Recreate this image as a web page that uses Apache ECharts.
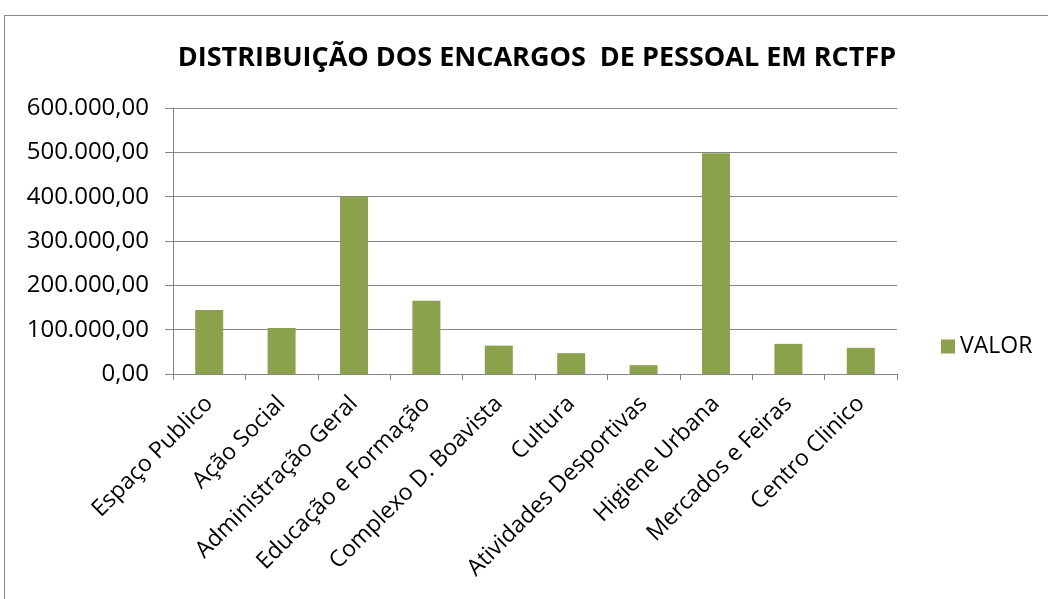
<!DOCTYPE html>
<html><head><meta charset="utf-8">
<script src="https://cdn.jsdelivr.net/npm/echarts@6/dist/echarts.min.js"></script>
<style>html,body{margin:0;padding:0;background:#fff}#c{width:1048px;height:599px}</style>
</head><body><div id="c"></div>
<script>
const categories = ['Espaço Publico','Ação Social','Administração Geral','Educação e Formação','Complexo D. Boavista','Cultura','Atividades Desportivas','Higiene Urbana','Mercados e Feiras','Centro Clinico'];
const valor = [144500, 104000, 400000, 165000, 64000, 47000, 20000, 498000, 68000, 59000];
const seriesName = 'VALOR';
const titleText = 'DISTRIBUIÇÃO DOS ENCARGOS  DE PESSOAL EM RCTFP';

function fmt(v){
  const s = Math.round(v).toString().replace(/\B(?=(\d{3})+(?!\d))/g,'.');
  return s + ',00';
}
const font = 'Open Sans';
const chart = echarts.init(document.getElementById('c'));
chart.setOption({
  animation:false,
  title:{text:titleText,left:532,top:40,textAlign:'center',textStyle:{fontFamily:font,fontWeight:'bold',fontSize:27,color:'#000'}},
  graphic:[{type:'rect',shape:{x:4.5,y:15.5,width:1100,height:700},style:{fill:'none',stroke:'#868686',lineWidth:1},silent:true}],
  legend:{data:[seriesName],left:936,top:330,itemWidth:14,itemHeight:14,itemGap:5,textStyle:{fontFamily:font,fontSize:23,color:'#000'},icon:'rect'},
  grid:{left:173,right:151,top:108,bottom:225,containLabel:false},
  xAxis:{type:'category',data:categories,
    axisLine:{lineStyle:{color:'#868686',width:1}},
    axisTick:{show:true,length:6,lineStyle:{color:'#868686'}},
    axisLabel:{rotate:45,interval:0,margin:26,fontFamily:font,fontSize:23,color:'#000'}},
  yAxis:{type:'value',min:0,max:600000,interval:100000,
    axisLine:{show:true,lineStyle:{color:'#868686'}},
    axisTick:{show:true,length:8,lineStyle:{color:'#868686'}},
    splitLine:{lineStyle:{color:'#868686',width:1}},
    axisLabel:{formatter:fmt,margin:24,fontFamily:font,fontSize:24,color:'#000'}},
  series:[{name:seriesName,type:'bar',data:valor,barWidth:28,itemStyle:{color:'#8ba14b'}}]
});
</script></body></html>
